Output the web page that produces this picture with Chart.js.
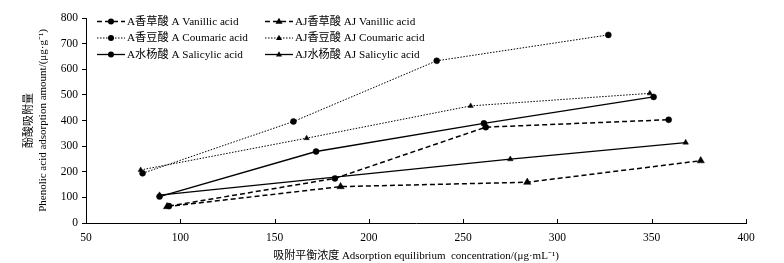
<!DOCTYPE html>
<html><head><meta charset="utf-8">
<script src="https://cdn.jsdelivr.net/npm/chart.js@4.4.1/dist/chart.umd.min.js"></script>
<style>html,body{margin:0;padding:0;background:#fff}#wrap{width:784px;height:263px;position:relative}</style>
</head><body><div id="wrap"><canvas id="c" width="784" height="263"></canvas></div>
<script>
// ---- data ----
const seriesNames = [
  'A香草酸 A Vanillic acid', 'A香豆酸 A Coumaric acid', 'A水杨酸 A Salicylic acid',
  'AJ香草酸 AJ Vanillic acid', 'AJ香豆酸 AJ Coumaric acid', 'AJ水杨酸 AJ Salicylic acid'
];
const aVanillicX = [94, 182, 262, 359];
const aVanillicY = [66, 174, 374, 403];
const aCoumaricX = [80, 160, 236, 327];
const aCoumaricY = [194, 396, 633, 734];
const aSalicylicX = [89, 172, 261, 351];
const aSalicylicY = [103, 279, 389, 492];
const ajVanillicX = [93, 185, 284, 376];
const ajVanillicY = [64, 142, 159, 243];
const ajCoumaricX = [79, 167, 254, 349];
const ajCoumaricY = [207, 331, 457, 506];
const ajSalicylicX = [89, 275, 368];
const ajSalicylicY = [109, 249, 314];
const xTickValues = [50, 100, 150, 200, 250, 300, 350, 400];
const yTickValues = [0, 100, 200, 300, 400, 500, 600, 700, 800];
const xTitle = '吸附平衡浓度 Adsorption equilibrium  concentration/(μg·mL⁻¹)';
const yTitle = ['酚酸吸附量', 'Phenolic acid adsorption amount/(μg·g⁻¹)'];

// ---- build ----
const pts = (xs, ys) => xs.map((x, i) => ({x, y: ys[i]}));
const FONT = "'Liberation Serif','Noto Sans CJK SC',serif";
const styles = [
  {dash: [5, 3], w: 1.5, ps: 'circle', r: 3},
  {dash: [1.5, 1.5], w: 1, ps: 'circle', r: 3},
  {dash: [], w: 1.3, ps: 'circle', r: 3},
  {dash: [5, 3], w: 1.5, ps: 'triangle', r: 4.2},
  {dash: [1.5, 1.5], w: 1, ps: 'triangle', r: 3},
  {dash: [], w: 1.3, ps: 'triangle', r: 3.2}
];
const seriesData = [
  pts(aVanillicX, aVanillicY), pts(aCoumaricX, aCoumaricY), pts(aSalicylicX, aSalicylicY),
  pts(ajVanillicX, ajVanillicY), pts(ajCoumaricX, ajCoumaricY), pts(ajSalicylicX, ajSalicylicY)
];
const datasets = seriesData.map((d, i) => ({
  label: seriesNames[i],
  data: d,
  borderColor: '#000',
  backgroundColor: '#000',
  borderWidth: styles[i].w,
  borderDash: styles[i].dash,
  pointStyle: styles[i].ps,
  pointRadius: styles[i].r,
  pointBorderWidth: 0.5,
  pointBackgroundColor: '#000',
  tension: 0,
  fill: false
}));

function marker(ctx, style, x, y, r) {
  ctx.save();
  ctx.setLineDash([]);
  ctx.fillStyle = '#000';
  ctx.beginPath();
  if (style === 'circle') {
    ctx.arc(x, y, r, 0, Math.PI * 2);
  } else {
    ctx.moveTo(x, y - r * 1.1);
    ctx.lineTo(x + r * 1.0, y + r * 0.65);
    ctx.lineTo(x - r * 1.0, y + r * 0.65);
    ctx.closePath();
  }
  ctx.fill();
  ctx.restore();
}

const legendPlugin = {
  id: 'inLegend',
  afterDraw(chart) {
    const ctx = chart.ctx;
    const ca = chart.chartArea;
    const cols = [ca.left + 11, ca.left + 179];
    const rows = [ca.top + 3.5, ca.top + 20, ca.top + 36.5];
    ctx.save();
    ctx.font = '11.2px ' + FONT;
    ctx.textBaseline = 'middle';
    ctx.fillStyle = '#000';
    for (let i = 0; i < 6; i++) {
      const c = Math.floor(i / 3), r = i % 3;
      const x0 = cols[c], y = rows[r];
      const st = styles[i];
      ctx.strokeStyle = '#000';
      ctx.lineWidth = st.w;
      ctx.setLineDash(st.dash);
      ctx.beginPath();
      ctx.moveTo(x0, y);
      ctx.lineTo(x0 + 28, y);
      ctx.stroke();
      marker(ctx, st.ps, x0 + 14, y, st.ps === 'circle' ? 3 : (i === 3 ? 3.5 : 3));
      ctx.setLineDash([]);
      ctx.fillText(seriesNames[i], x0 + 30, y + 0.5);
    }
    ctx.restore();
  }
};

const xTickPlugin = {
  id: 'xInTicks',
  afterDraw(chart) {
    const ctx = chart.ctx, xs = chart.scales.x, b = chart.chartArea.bottom;
    ctx.save();
    ctx.strokeStyle = '#000';
    ctx.lineWidth = 1;
    xTickValues.forEach(v => {
      const px = Math.round(xs.getPixelForValue(v)) + 0.5;
      ctx.beginPath();
      ctx.moveTo(px, b);
      ctx.lineTo(px, b - 4);
      ctx.stroke();
    });
    ctx.restore();
  }
};

new Chart(document.getElementById('c'), {
  type: 'line',
  data: {datasets},
  plugins: [legendPlugin, xTickPlugin],
  options: {
    responsive: false,
    animation: false,
    layout: {padding: {left: 0, right: 38, top: 18, bottom: 0}},
    plugins: {legend: {display: false}, tooltip: {enabled: false}},
    scales: {
      x: {
        type: 'linear', min: 50, max: 400,
        afterBuildTicks: s => { s.ticks = xTickValues.map(v => ({value: v})); },
        afterFit: s => { s.height = 40; },
        grid: {display: false},
        border: {display: true, color: '#000', width: 1},
        ticks: {color: '#000', padding: 0, maxRotation: 0, font: {family: FONT, size: 11.5}},
        title: {display: true, text: xTitle, color: '#000', font: {family: FONT, size: 11}, padding: {top: 0, bottom: 0}}
      },
      y: {
        type: 'linear', min: 0, max: 800,
        afterBuildTicks: s => { s.ticks = yTickValues.map(v => ({value: v})); },
        afterFit: s => { s.width = 86; },
        grid: {display: true, drawOnChartArea: false, drawTicks: true, tickLength: 4, color: '#000'},
        border: {display: true, color: '#000', width: 1},
        ticks: {color: '#000', padding: 4, font: {family: FONT, size: 11.5}},
        title: {display: true, text: yTitle, color: '#000', font: {family: FONT, size: 11, lineHeight: 1.2}, padding: {top: 23, bottom: 0}}
      }
    }
  }
});
</script>
</body></html>
